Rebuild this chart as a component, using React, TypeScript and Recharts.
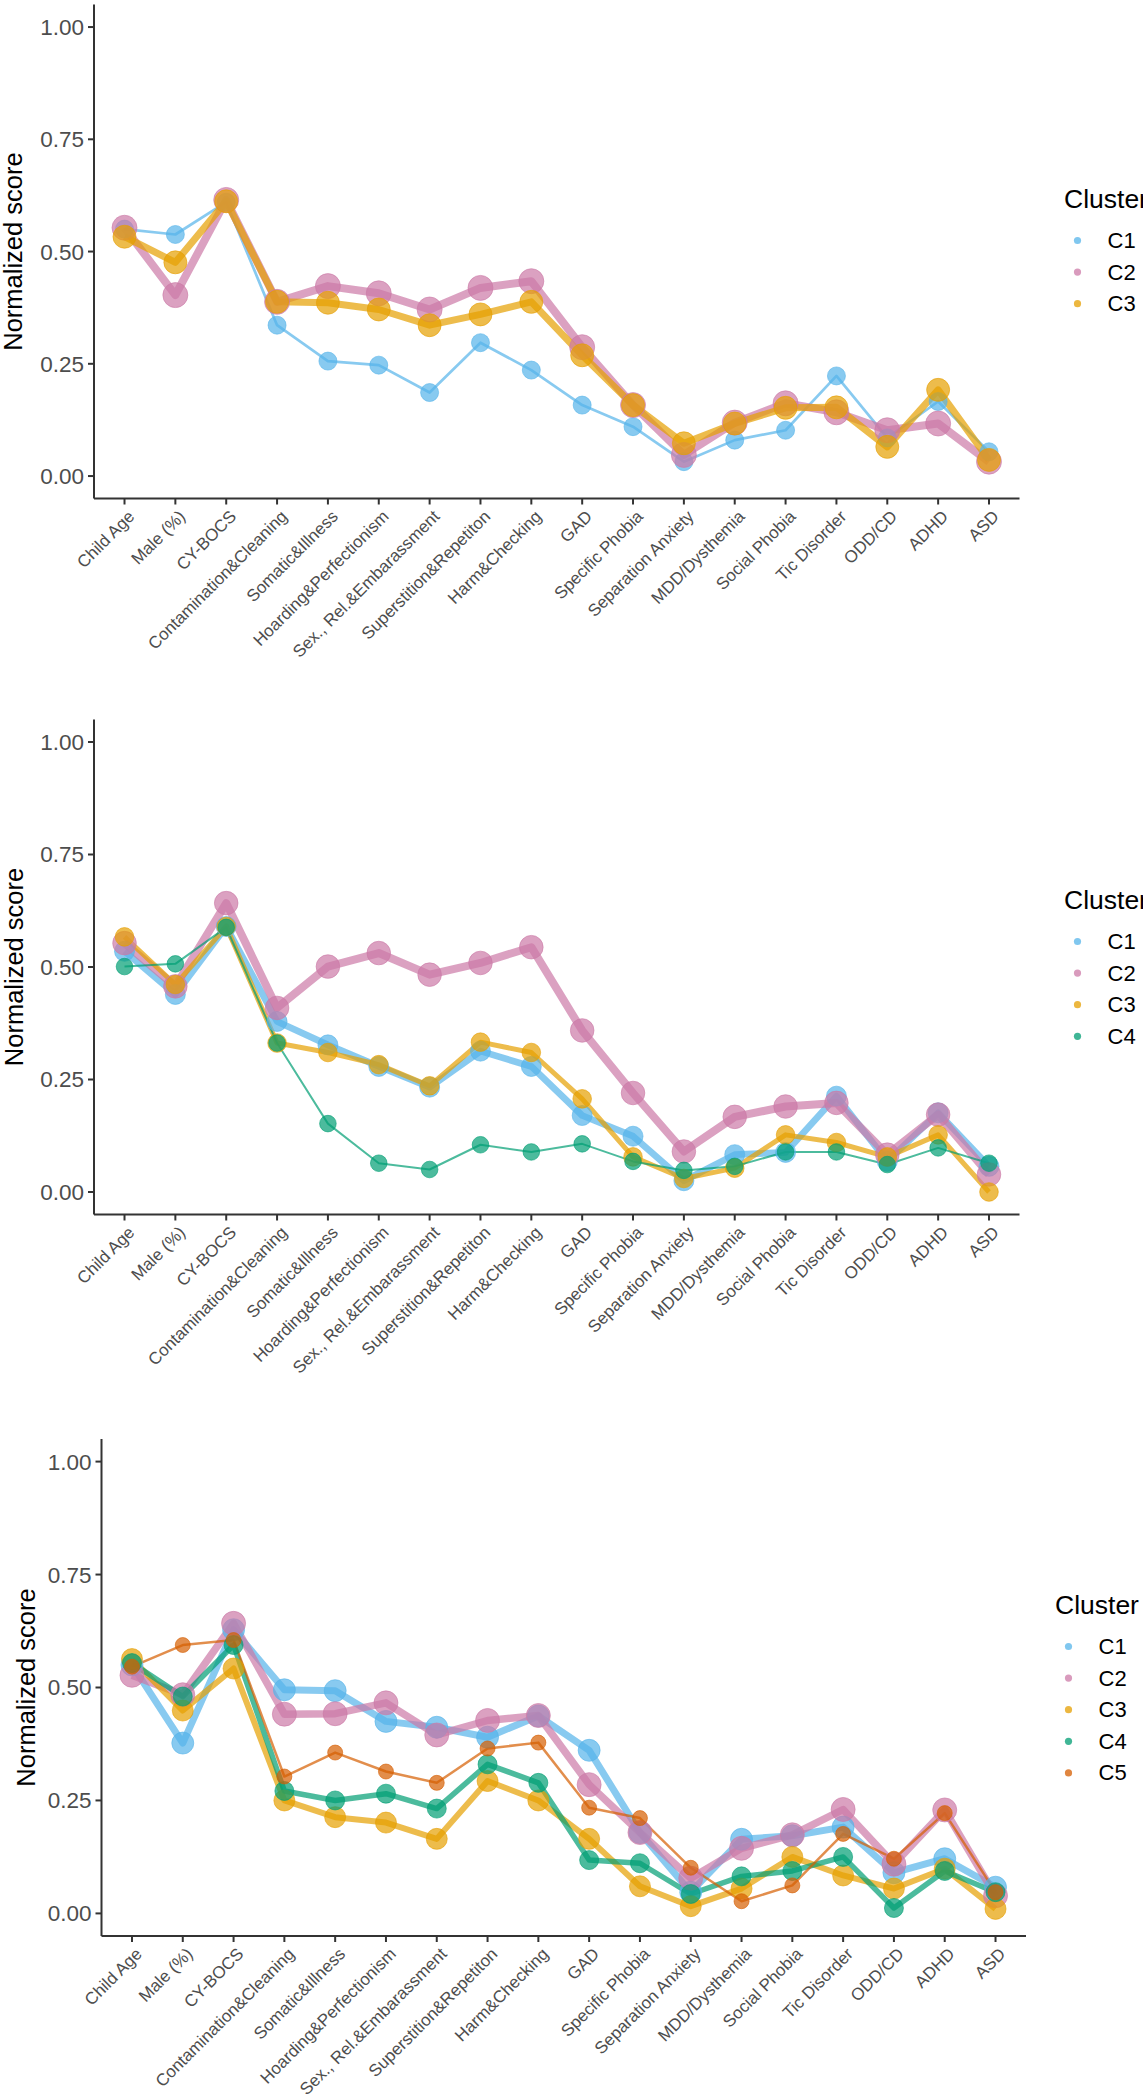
import { Legend, Line, LineChart, XAxis, YAxis } from "recharts"

const FONT = "'Liberation Sans', Arial, Helvetica, sans-serif"

const categories = [
  "Child Age",
  "Male (%)",
  "CY-BOCS",
  "Contamination&Cleaning",
  "Somatic&Illness",
  "Hoarding&Perfectionism",
  "Sex., Rel.&Embarassment",
  "Superstition&Repetiton",
  "Harm&Checking",
  "GAD",
  "Specific Phobia",
  "Separation Anxiety",
  "MDD/Dysthemia",
  "Social Phobia",
  "Tic Disorder",
  "ODD/CD",
  "ADHD",
  "ASD",
]

const yTicks = [0, 0.25, 0.5, 0.75, 1]
const clusterNames = ["C1", "C2", "C3", "C4", "C5"]
const clusterColors = ["#56B4E9", "#CC79A7", "#E69F00", "#009E73", "#D55E00"]

// top panel: 3 clusters
const p1C1 = [0.55, 0.538, 0.61, 0.336, 0.256, 0.247, 0.186, 0.297, 0.236, 0.158, 0.11, 0.032, 0.08, 0.102, 0.223, 0.085, 0.166, 0.054]
const p1C2 = [0.553, 0.403, 0.615, 0.388, 0.423, 0.407, 0.371, 0.419, 0.434, 0.287, 0.158, 0.047, 0.119, 0.162, 0.142, 0.102, 0.117, 0.032]
const p1C3 = [0.533, 0.476, 0.612, 0.388, 0.386, 0.371, 0.336, 0.36, 0.388, 0.269, 0.158, 0.073, 0.117, 0.152, 0.153, 0.065, 0.192, 0.036]

// middle panel: 4 clusters
const p2C1 = [0.535, 0.439, 0.59, 0.379, 0.327, 0.279, 0.233, 0.313, 0.279, 0.17, 0.124, 0.025, 0.083, 0.088, 0.213, 0.068, 0.176, 0.057]
const p2C2 = [0.553, 0.457, 0.642, 0.409, 0.501, 0.531, 0.483, 0.509, 0.544, 0.359, 0.22, 0.09, 0.167, 0.19, 0.198, 0.083, 0.172, 0.039]
const p2C3 = [0.567, 0.461, 0.59, 0.331, 0.31, 0.283, 0.236, 0.333, 0.31, 0.207, 0.078, 0.03, 0.053, 0.127, 0.11, 0.078, 0.127, 0.0]
const p2C4 = [0.501, 0.507, 0.588, 0.331, 0.152, 0.064, 0.05, 0.105, 0.089, 0.107, 0.068, 0.048, 0.057, 0.089, 0.089, 0.061, 0.098, 0.064]

// bottom panel: 5 clusters
const p3C1 = [0.55, 0.377, 0.628, 0.495, 0.493, 0.425, 0.412, 0.39, 0.437, 0.361, 0.179, 0.047, 0.164, 0.172, 0.191, 0.09, 0.121, 0.058]
const p3C2 = [0.527, 0.484, 0.642, 0.441, 0.442, 0.466, 0.395, 0.427, 0.438, 0.285, 0.179, 0.078, 0.144, 0.174, 0.23, 0.109, 0.229, 0.039]
const p3C3 = [0.563, 0.449, 0.542, 0.25, 0.213, 0.201, 0.165, 0.293, 0.25, 0.165, 0.06, 0.016, 0.055, 0.125, 0.084, 0.055, 0.099, 0.01]
const p3C4 = [0.554, 0.48, 0.594, 0.271, 0.25, 0.265, 0.232, 0.33, 0.289, 0.118, 0.111, 0.043, 0.082, 0.094, 0.125, 0.012, 0.094, 0.047]
const p3C5 = [0.546, 0.594, 0.605, 0.303, 0.356, 0.314, 0.289, 0.365, 0.378, 0.234, 0.211, 0.101, 0.027, 0.062, 0.176, 0.121, 0.222, 0.047]

interface Series {
  name: string
  color: string
  values: number[]
  lw: number
  r: number
}

interface PanelSpec {
  top: number
  height: number
  plotLeft: number
  plotRight: number
  plotTop: number
  plotBottom: number
  xAxisHeight: number
  titleX: number
  legendLeft: number
  legendTop: number
  series: Series[]
}

const mk = (i: number, values: number[], lw: number, r: number): Series => ({
  name: clusterNames[i],
  color: clusterColors[i],
  values,
  lw,
  r,
})

const panels: PanelSpec[] = [
  {
    top: 0, height: 700, plotLeft: 94, plotRight: 1019.5, plotTop: 4.6, plotBottom: 498.5,
    xAxisHeight: 180, titleX: 13.5, legendLeft: 1064, legendTop: 179,
    series: [mk(0, p1C1, 2.7, 9), mk(1, p1C2, 8, 12.5), mk(2, p1C3, 7, 11.5)],
  },
  {
    top: 700, height: 720, plotLeft: 94, plotRight: 1019.5, plotTop: 19.5, plotBottom: 514.5,
    xAxisHeight: 180, titleX: 13.5, legendLeft: 1064, legendTop: 180,
    series: [mk(0, p2C1, 6.7, 10), mk(1, p2C2, 8, 11.8), mk(2, p2C3, 5, 9.3), mk(3, p2C4, 2, 8.3)],
  },
  {
    top: 1420, height: 680, plotLeft: 101.5, plotRight: 1026, plotTop: 19, plotBottom: 516,
    xAxisHeight: 160, titleX: 25.5, legendLeft: 1055, legendTop: 165,
    series: [mk(0, p3C1, 7, 11), mk(1, p3C2, 7.5, 12), mk(2, p3C3, 6, 10.5), mk(3, p3C4, 5.5, 9.5), mk(4, p3C5, 2.5, 7.5)],
  },
]

const idxTicks = categories.map((_, i) => i)

function SlantTick(props: any) {
  const { x, y, payload } = props
  const ax = x + 11
  const ay = y + 11
  return (
    <text
      x={ax}
      y={ay}
      transform={`rotate(-45, ${ax}, ${ay})`}
      textAnchor="end"
      fontSize={17}
      fill="#4D4D4D"
      fontFamily={FONT}
    >
      {categories[payload.value]}
    </text>
  )
}

function ClusterLegend({ series }: { series: Series[] }) {
  return (
    <svg width={100} height={70 + series.length * 31.6} style={{ overflow: "visible", display: "block" }}>
      <text x={0} y={20} dominantBaseline="central" fontSize={26.5} fill="#000" fontFamily={FONT}>
        Cluster
      </text>
      {series.map((s, i) => (
        <g key={s.name}>
          <circle cx={13.5} cy={61.5 + i * 31.6} r={3.6} fill={s.color} fillOpacity={0.75} />
          <text x={43.5} y={61.5 + i * 31.6} dominantBaseline="central" fontSize={22} fill="#000" fontFamily={FONT}>
            {s.name}
          </text>
        </g>
      ))}
    </svg>
  )
}

function ClusterPanel({ spec }: { spec: PanelSpec }) {
  const data = categories.map((c, i) => {
    const row: Record<string, number | string> = { idx: i, category: c }
    spec.series.forEach((s) => {
      row[s.name] = s.values[i]
    })
    return row
  })
  const axisStyle = { stroke: "#333333", strokeWidth: 2 }
  const titleY = (spec.plotTop + spec.plotBottom) / 2

  return (
    <LineChart
      width={1143}
      height={spec.height}
      data={data}
      margin={{
        top: spec.plotTop,
        right: 1143 - spec.plotRight,
        bottom: spec.height - spec.plotBottom - spec.xAxisHeight,
        left: 0,
      }}
    >
      <XAxis
        type="number"
        dataKey="idx"
        domain={[-0.6, 17.6]}
        ticks={idxTicks}
        interval={0}
        allowDataOverflow
        height={spec.xAxisHeight}
        tickSize={6}
        tickMargin={2}
        tick={SlantTick}
        axisLine={axisStyle}
        tickLine={axisStyle}
      />
      <YAxis
        type="number"
        domain={[-0.05, 1.05]}
        ticks={yTicks}
        interval={0}
        allowDataOverflow
        width={spec.plotLeft}
        tickSize={6}
        tickMargin={4}
        tickFormatter={(v: number) => v.toFixed(2)}
        tick={{ fill: "#4D4D4D", fontSize: 22.5, fontFamily: FONT }}
        axisLine={axisStyle}
        tickLine={axisStyle}
        label={{
          content: () => (
            <text
              x={spec.titleX}
              y={titleY}
              transform={`rotate(-90, ${spec.titleX}, ${titleY})`}
              textAnchor="middle"
              dominantBaseline="central"
              fontSize={25.5}
              fill="#000"
              fontFamily={FONT}
            >
              Normalized score
            </text>
          ),
        }}
      />
      {spec.series.map((s) => (
        <Line
          key={`${s.name}-line`}
          type="linear"
          dataKey={s.name}
          stroke={s.color}
          strokeWidth={s.lw}
          strokeOpacity={0.7}
          strokeLinejoin="round"
          dot={false}
          activeDot={false}
          legendType="none"
          isAnimationActive={false}
        />
      ))}
      {spec.series.map((s) => (
        <Line
          key={`${s.name}-pts`}
          type="linear"
          dataKey={s.name}
          name={s.name}
          stroke="none"
          dot={{ r: s.r, fill: s.color, fillOpacity: 0.7, stroke: s.color, strokeOpacity: 0.6, strokeWidth: 1 }}
          activeDot={false}
          isAnimationActive={false}
        />
      ))}
      <Legend
        layout="horizontal"
        align="center"
        verticalAlign="middle"
        content={() => <ClusterLegend series={spec.series} />}
        wrapperStyle={{
          left: spec.legendLeft,
          top: spec.legendTop,
          width: 1143 - spec.legendLeft,
          height: 240,
          overflow: "hidden",
        }}
      />
    </LineChart>
  )
}

export default function App() {
  return (
    <div
      style={{
        position: "absolute",
        left: 0,
        top: 0,
        width: 1143,
        height: 2100,
        overflow: "hidden",
        background: "#ffffff",
        fontFamily: FONT,
      }}
    >
      {panels.map((p) => (
        <div key={p.top} style={{ position: "absolute", left: 0, top: p.top }}>
          <ClusterPanel spec={p} />
        </div>
      ))}
    </div>
  )
}
